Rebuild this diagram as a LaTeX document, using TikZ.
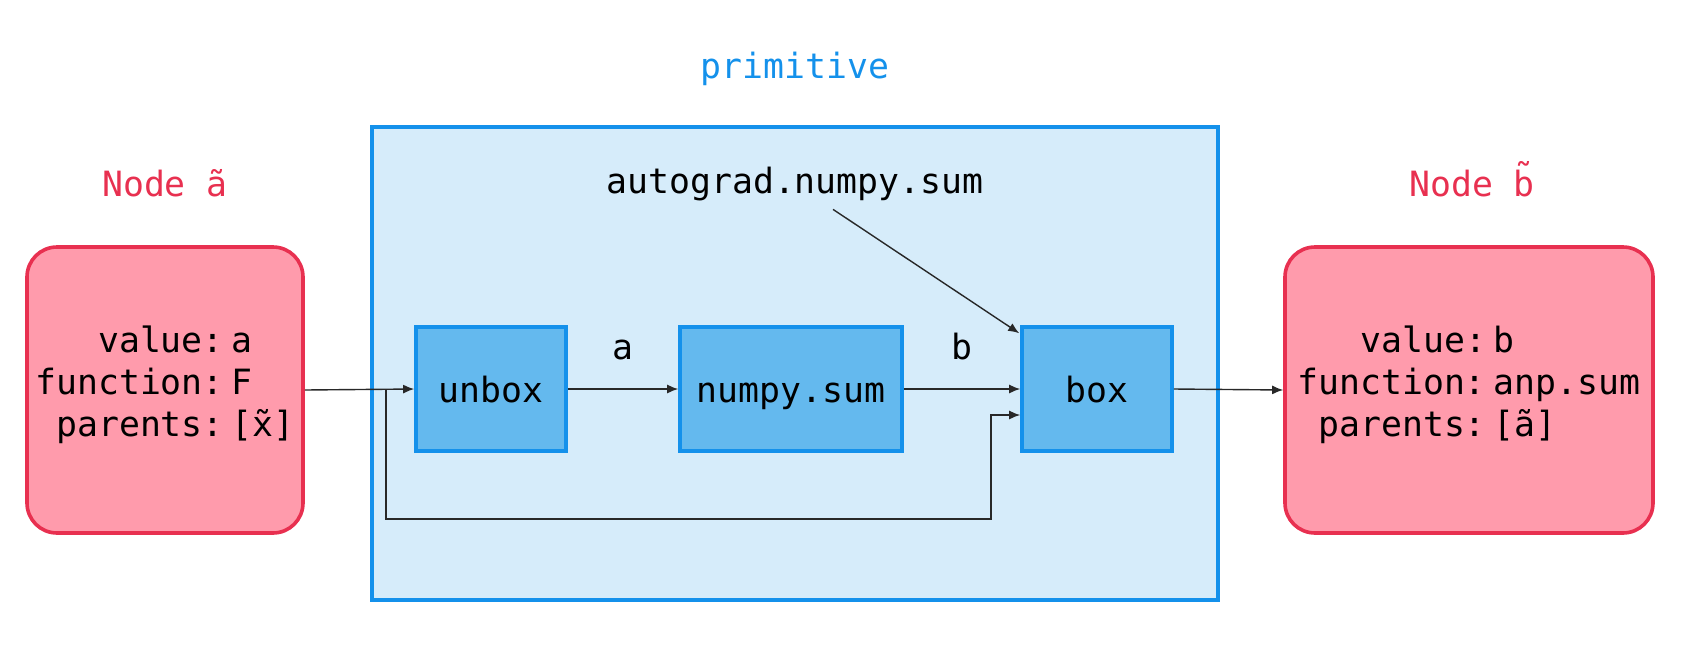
\documentclass[tikz,border=0pt]{standalone}
\usepackage{fontspec}
\setmainfont{DejaVu Sans Mono}
\usetikzlibrary{arrows.meta,calc}
\definecolor{pinkfill}{RGB}{255,155,172}
\definecolor{redline}{RGB}{232,48,80}
\definecolor{lightblue}{RGB}{214,236,250}
\definecolor{blueline}{RGB}{20,145,235}
\definecolor{midblue}{RGB}{100,185,238}
\definecolor{arrowgray}{RGB}{40,40,40}
\tikzset{
  txt/.style={font=\fontsize{17.4}{21}\selectfont, inner sep=0pt},
  rednode/.style={draw=redline, fill=pinkfill, line width=1.8pt, rounded corners=15pt,
    minimum height=143pt, font=\fontsize{17.4}{21}\selectfont, inner sep=0pt},
  primbox/.style={draw=blueline, fill=lightblue, line width=2pt, minimum width=423pt, minimum height=236.5pt},
  fnbox/.style={draw=blueline, fill=midblue, line width=1.8pt, minimum height=62pt,
    text height=13pt, text depth=0pt, font=\fontsize{17.4}{21}\selectfont},
  arr/.style={draw=arrowgray, line width=0.7pt, -{Latex[length=5.5pt,width=4.5pt]}},
  lbl/.style={txt},
}
\begin{document}
\begin{tikzpicture}[x=0.5pt,y=-0.5pt]
\useasboundingbox (0,0) rectangle (1694,660);
% primitive container
\node[primbox] (prim) at (795,363.5) {};
\node[txt, text=blueline] (primlbl) at (795,69) {primitive};
\node[txt] (ag) at (795,184) {autograd.numpy.sum};
% red nodes
\node[txt, text=redline, anchor=base] (natitle) at (165,196) {Node ã};
\node[txt, text=redline, anchor=base] (nbtitle) at (1472,196) {Node b̃};
\node[rednode, minimum width=138pt] (na) at (165,390) {%
  \renewcommand\arraystretch{1}%
  \begin{tabular}{@{}r@{\hspace{4pt}}l@{}}
  value: & a\\
  function: & F\\
  parents: & [x̃]
  \end{tabular}\rule[-31pt]{0pt}{0pt}};
\node[rednode, minimum width=184pt] (nb) at (1469,390) {%
  \renewcommand\arraystretch{1}%
  \begin{tabular}{@{}r@{\hspace{4pt}}l@{}}
  value: & b\\
  function: & anp.sum\\
  parents: & [ã]
  \end{tabular}\rule[-31pt]{0pt}{0pt}};
% function boxes
\node[fnbox, minimum width=75pt] (unbox) at (491,389) {unbox};
\node[fnbox, minimum width=111pt] (npsum) at (791,389) {numpy.sum};
\node[fnbox, minimum width=75pt] (box) at (1097,389) {box};
% connectors
\coordinate (split) at (386,390);
\coordinate (turn) at (991,519);
\draw[arr] (na.east) -- (unbox.west);
\draw[arr] (unbox.east) -- node[lbl, above=14pt] (la) {a} (npsum.west);
\draw[arr] (npsum.east) -- node[lbl, above=14pt] (lb) {b} (box.west);
\draw[arr] (split) |- (turn) |- ($(box.west)+(0,26)$);
\draw[arr] ($(ag.south)+(38,8)$) -- ($(box.north west)+(-1,8)$);
\draw[arr] (box.east) -- (nb.west);
\end{tikzpicture}
\end{document}
